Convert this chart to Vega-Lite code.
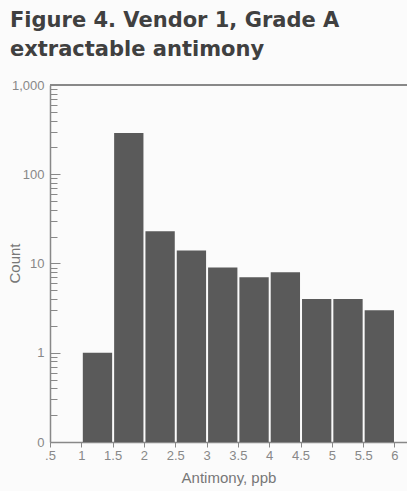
{
  "$schema": "https://vega.github.io/schema/vega-lite/v6.json",
  "width": 357,
  "height": 357,
  "autosize": "none",
  "padding": {"left": 50, "top": 85, "right": 0, "bottom": 49},
  "background": "#fbfbfb",
  "title": {
    "text": ["Figure 4. Vendor 1, Grade A", "extractable antimony"],
    "anchor": "start",
    "frame": "group",
    "dx": -40,
    "offset": 19,
    "font": "DejaVu Sans",
    "fontSize": 21,
    "fontWeight": "bold",
    "lineHeight": 29,
    "color": "#404040"
  },
  "config": {
    "view": {"stroke": null},
    "bar": {"binSpacing": 2},
    "axis": {
      "domainColor": "#888",
      "domainWidth": 1.5,
      "tickColor": "#888",
      "labelColor": "#888",
      "labelFont": "Liberation Sans",
      "labelFontSize": 13,
      "titleFont": "Liberation Sans",
      "titleFontWeight": "normal",
      "titleFontSize": 15,
      "titleColor": "#777",
      "grid": false
    }
  },
  "data": {
    "values": [
      {"bin_start": 1, "bin_end": 1.5, "count": 1},
      {"bin_start": 1.5, "bin_end": 2, "count": 290},
      {"bin_start": 2, "bin_end": 2.5, "count": 23},
      {"bin_start": 2.5, "bin_end": 3, "count": 14},
      {"bin_start": 3, "bin_end": 3.5, "count": 9},
      {"bin_start": 3.5, "bin_end": 4, "count": 7},
      {"bin_start": 4, "bin_end": 4.5, "count": 8},
      {"bin_start": 4.5, "bin_end": 5, "count": 4},
      {"bin_start": 5, "bin_end": 5.5, "count": 4},
      {"bin_start": 5.5, "bin_end": 6, "count": 3}
    ]
  },
  "layer": [
    {
      "mark": {"type": "bar", "color": "#5a5a5a"},
      "encoding": {
        "x": {
          "field": "bin_start",
          "type": "quantitative",
          "bin": "binned",
          "scale": {"domain": [0.5, 6.2], "nice": false, "zero": false},
          "axis": {
            "title": "Antimony, ppb",
            "titlePadding": 8,
            "values": [0.5, 1, 1.5, 2, 2.5, 3, 3.5, 4, 4.5, 5, 5.5, 6],
            "format": ".2~f",
            "labelExpr": "datum.value == 0.5 ? '.5' : datum.label",
            "tickSize": 5,
            "labelPadding": 2,
            "labelFlush": false,
            "labelOverlap": false
          }
        },
        "x2": {"field": "bin_end"},
        "y": {
          "field": "count",
          "type": "quantitative",
          "scale": {"type": "log", "domain": [0.1, 1000], "nice": false},
          "axis": {
            "title": "Count",
            "titleX": -36,
            "titleY": 178,
            "titleAngle": -90,
            "titleAlign": "center",
            "titleBaseline": "middle",
            "values": [0.1, 0.2, 0.3, 0.4, 0.5, 0.6, 0.7, 0.8, 0.9, 1, 2, 3, 4, 5, 6, 7, 8, 9, 10, 20, 30, 40, 50, 60, 70, 80, 90, 100, 200, 300, 400, 500, 600, 700, 800, 900, 1000],
            "labelExpr": "datum.value == 0.1 ? '0' : datum.value == 1000 ? '1,000' : (datum.value == 1 || datum.value == 10 || datum.value == 100) ? datum.label : ''",
            "tickSize": {"condition": {"test": "datum.value == 0.1 || datum.value == 1 || datum.value == 10 || datum.value == 100 || datum.value == 1000", "value": -10}, "value": -7},
            "labelPadding": 16,
            "labelOverlap": false,
            "labelFlush": false
          }
        },
        "y2": {"datum": 0.1}
      }
    },
    {
      "mark": {"type": "rule", "color": "#888", "strokeWidth": 1.5},
      "encoding": {"y": {"datum": 1000}}
    }
  ]
}
